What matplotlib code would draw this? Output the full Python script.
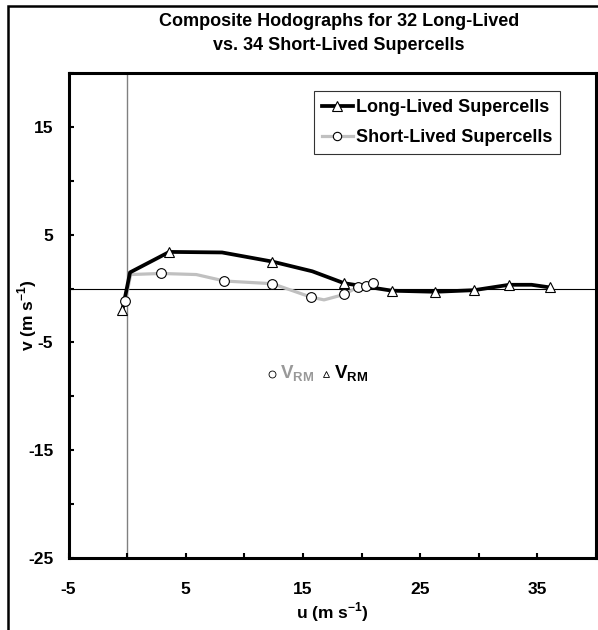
import matplotlib
matplotlib.use("Agg")
import matplotlib.pyplot as plt
from matplotlib.lines import Line2D
from matplotlib.patches import Rectangle

plt.rcParams["font.family"] = ["Liberation Sans", "DejaVu Sans"]
plt.rcParams["font.weight"] = "bold"
plt.rcParams["mathtext.fontset"] = "custom"
plt.rcParams["mathtext.rm"] = "Liberation Sans:bold"
plt.rcParams["mathtext.bf"] = "Liberation Sans:bold"

# Hodografo compuesto, supercelulas de vida larga (u, v en m/s)
u_larga = [-0.4, 0.25, 3.6, 8.1, 12.4, 15.8, 18.5, 22.6, 26.3, 29.6, 32.6, 34.5, 36.1]
v_larga = [-2.0, 1.5, 3.4, 3.35, 2.5, 1.6, 0.5, -0.2, -0.3, -0.15, 0.35, 0.35, 0.1]
marcas_larga = [0, 2, 4, 6, 7, 8, 9, 10, 12]

# Supercelulas de vida corta
u_corta = [-0.15, 0.3, 2.9, 5.9, 8.3, 12.4, 15.7, 16.8, 18.5, 19.7, 20.4, 21.0]
v_corta = [-1.2, 1.3, 1.4, 1.3, 0.7, 0.45, -0.8, -1.05, -0.55, 0.15, 0.25, 0.5]
marcas_corta = [0, 2, 4, 5, 6, 8, 9, 10, 11]

# Movimiento de tormenta (desviada a la derecha)
vrm_corta = (12.4, -7.95)
vrm_larga = (17.0, -7.9)

gris_linea = "#C0C0C0"
gris_texto = "#999999"

fig = plt.figure(figsize=(5.98, 6.30), dpi=100)
ax = fig.add_axes([68.5 / 598, 1 - 558 / 630, (596 - 68.5) / 598, (558 - 73) / 630])

# Ejes de referencia
ax.axvline(0, color="#808080", lw=1.0, zorder=1)
ax.axhline(0, color="black", lw=0.8, zorder=1)

# Curvas
ax.plot(u_corta, v_corta, color=gris_linea, lw=2.3, zorder=2)
ax.plot(u_larga, v_larga, color="black", lw=2.7, marker="^", markevery=marcas_larga,
        markersize=7, markerfacecolor="white", markeredgecolor="black", markeredgewidth=0.8, zorder=3)
uc = [u_corta[i] for i in marcas_corta]
vc = [v_corta[i] for i in marcas_corta]
ax.plot(uc, vc, ls="none", marker="o", markersize=7, markerfacecolor="white",
        markeredgecolor="black", markeredgewidth=0.8, zorder=4)

# Vectores de movimiento
ax.plot(*vrm_corta, marker="o", markersize=5, markerfacecolor="white", markeredgecolor="black",
        markeredgewidth=0.6, ls="none")
ax.plot(*vrm_larga, marker="^", markersize=5, markerfacecolor="white", markeredgecolor="black",
        markeredgewidth=0.6, ls="none")
ax.text(vrm_corta[0] + 0.65, vrm_corta[1], r"V$_{\mathbf{RM}}$", color=gris_texto, fontsize=13.5,
        va="center", ha="left")
ax.text(vrm_larga[0] + 0.65, vrm_larga[1], r"V$_{\mathbf{RM}}$", color="black", fontsize=13.5,
        va="center", ha="left")

ax.set_xlim(-5, 40)
ax.set_ylim(-25, 20)

xt = list(range(-5, 41, 5))
yt = list(range(-25, 21, 5))
ax.set_xticks(xt)
ax.set_xticklabels([str(t) if (t + 5) % 10 == 0 else "" for t in xt])
ax.set_yticks(yt)
ax.set_yticklabels([str(t) if (t + 25) % 10 == 0 else "" for t in yt])
ax.tick_params(axis="both", direction="in", length=3.5, width=1.5, labelsize=12.5)
ax.tick_params(axis="x", pad=17)
ax.tick_params(axis="y", pad=11)
for s in ax.spines.values():
    s.set_linewidth(2.2)

ax.set_xlabel(r"u (m s$^{\mathbf{-1}}$)", fontsize=12.5, fontweight="bold", labelpad=3)
ax.set_ylabel(r"v (m s$^{\mathbf{-1}}$)", fontsize=12.5, fontweight="bold", labelpad=-8)

fig.text(339 / 598, 1 - 21 / 630, "Composite Hodographs for 32 Long-Lived", ha="center", va="center",
         fontsize=13)
fig.text(339 / 598, 1 - 46 / 630, "vs. 34 Short-Lived Supercells", ha="center", va="center",
         fontsize=13)

handles = [
    Line2D([], [], color="black", lw=2.7, marker="^", markersize=7, markerfacecolor="white",
           markeredgecolor="black", markeredgewidth=0.8),
    Line2D([], [], color=gris_linea, lw=2.3, marker="o", markersize=6, markerfacecolor="white",
           markeredgecolor="black", markeredgewidth=0.8),
]
leg = ax.legend(handles, ["Long-Lived Supercells", "Short-Lived Supercells"], loc="upper right",
                bbox_to_anchor=(560 / 598, 1 - 91 / 630), bbox_transform=fig.transFigure,
                fontsize=13, frameon=True, fancybox=False, handlelength=1.7, handletextpad=0.15,
                borderpad=0.45, labelspacing=0.72, borderaxespad=0)
leg.get_frame().set_edgecolor("black")
leg.get_frame().set_linewidth(0.8)

# Marco exterior de la figura
fig.patches.append(Rectangle((7.5 / 598, -0.05), 1.1, 1.05 - 6 / 630, transform=fig.transFigure,
                             fill=False, edgecolor="black", lw=1.8, clip_on=False))

fig.savefig("out.png", dpi=100)
